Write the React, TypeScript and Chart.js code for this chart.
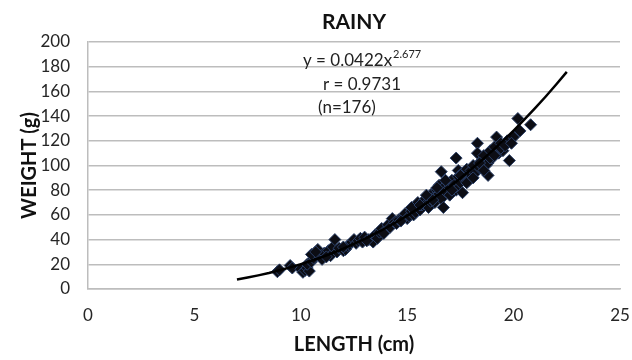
import React, { useEffect, useRef } from 'react';
import { Chart, registerables } from 'chart.js';

Chart.register(...registerables);

const lengthCm = [
  8.9, 9.0, 9.5, 9.6, 10.0, 10.1, 10.2, 10.3, 10.4, 10.3, 10.5, 10.6, 10.5, 10.8, 10.9, 11.0,
  11.1, 11.3, 11.4, 11.5, 11.6, 11.7, 11.8, 12.0, 12.1, 12.2, 12.3, 12.4, 12.5, 12.6, 12.7, 12.8,
  12.9, 13.0, 13.2, 13.4, 13.5, 13.6, 13.7, 13.8, 14.0, 14.1, 14.2, 14.3, 14.4, 14.5, 14.6, 14.8,
  14.9, 15.0, 15.1, 15.2, 15.3, 15.4, 15.5, 15.5, 15.6, 15.7, 15.8, 15.9, 16.0, 16.0, 16.1, 16.2,
  16.3, 16.3, 16.4, 16.5, 16.5, 16.6, 16.6, 16.7, 16.7, 16.8, 16.9, 17.0, 17.0, 17.1, 17.2, 17.3,
  17.3, 17.4, 17.4, 17.5, 17.6, 17.6, 17.7, 17.8, 17.9, 18.0, 18.0, 18.1, 18.2, 18.3, 18.3, 18.4,
  18.5, 18.6, 18.7, 18.8, 18.8, 18.9, 19.0, 19.1, 19.2, 19.3, 19.4, 19.5, 19.7, 19.8, 20.0, 20.2,
  20.3, 20.8,
  10.7, 11.2, 12.0, 13.1, 13.9, 14.7, 15.2, 15.6, 15.9, 16.2, 16.4, 16.8, 17.1, 17.5, 17.8, 18.1,
  18.4, 18.6, 18.9, 19.1, 19.4, 19.6, 19.9,
];
const weightG = [
  14, 15.5, 19, 17, 16, 13.5, 15, 17, 14.5, 20, 22, 25, 28, 32, 27, 24,
  29, 31, 27, 34, 40, 30, 33, 31, 32, 35, 36, 38, 40, 37, 39, 41,
  38, 42, 40, 38, 44, 41, 46, 49, 48, 52, 50, 57, 54, 53, 56, 58,
  61, 57, 59, 63, 60, 62, 66, 70, 64, 68, 72, 69, 66, 74, 71, 78,
  75, 70, 80, 77, 84, 95, 73, 66, 82, 79, 86, 82, 76, 88, 84, 106,
  80, 96, 91, 86, 78, 94, 90, 97, 88, 96, 92, 100, 94, 118, 110, 98,
  104, 108, 100, 102, 92, 112, 106, 115, 123, 110, 118, 112, 120, 104, 123, 138,
  128, 133,
  30, 26, 34, 39, 45, 55, 66, 68, 76, 72, 82, 88, 80, 92, 86, 90,
  102, 96, 106, 108, 114, 116, 118,
];

// Power trend line shown on the chart: y = 0.0422 x^2.677
const trendCoef = 0.0422;
const trendExp = 2.677;
const trendX = [7, 7.5, 8, 8.5, 9, 9.5, 10, 10.5, 11, 11.5, 12, 12.5, 13, 13.5, 14, 14.5, 15, 15.5, 16, 16.5, 17, 17.5, 18, 18.5, 19, 19.5, 20, 20.5, 21, 21.5, 22, 22.5];

const xTicks = [0, 5, 10, 15, 20, 25];
const yTicks = [0, 20, 40, 60, 80, 100, 120, 140, 160, 180, 200];

const chartTitle = 'RAINY';
const xTitle = 'LENGTH (cm)';
const yTitle = 'WEIGHT (g)';
const eqText = 'y = 0.0422x';
const eqSup = '2.677';
const rText = 'r = 0.9731';
const nText = '(n=176)';

const FONT = 'Lato, "Open Sans", "DejaVu Sans", sans-serif';

export default function App() {
  const canvasRef = useRef<HTMLCanvasElement | null>(null);

  useEffect(() => {
    document.body.style.margin = '0';
    const canvas = canvasRef.current;
    if (!canvas) return;

    const textPlugin = {
      id: 'textPlugin',
      afterDraw(chart: any) {
        const ctx = chart.ctx as CanvasRenderingContext2D;
        const ca = chart.chartArea;
        ctx.save();
        ctx.fillStyle = '#111111';
        ctx.textBaseline = 'middle';
        ctx.textAlign = 'center';
        ctx.font = `bold 21px ${FONT}`;
        ctx.fillText(chartTitle, (ca.left + ca.right) / 2, 22);

        ctx.textAlign = 'left';
        ctx.font = `17px ${FONT}`;
        ctx.fillStyle = '#222222';
        ctx.fillText(eqText, 303, 61);
        const w = ctx.measureText(eqText).width;
        ctx.font = `11px ${FONT}`;
        ctx.fillText(eqSup, 303 + w + 1, 54);
        ctx.font = `17px ${FONT}`;
        ctx.fillText(rText, 323, 85);
        ctx.fillText(nText, 318, 108);
        ctx.restore();
      },
    };

    const chart = new Chart(canvas, {
      type: 'scatter',
      data: {
        datasets: [
          {
            type: 'line',
            data: trendX.map((x) => ({ x, y: trendCoef * Math.pow(x, trendExp) })),
            borderColor: '#000000',
            borderWidth: 2.5,
            pointRadius: 0,
            fill: false,
            tension: 0,
          } as any,
          {
            type: 'scatter',
            data: lengthCm.map((x, i) => ({ x, y: weightG[i] })),
            pointStyle: 'rectRot',
            pointRadius: 6,
            backgroundColor: '#0c0d14',
            borderColor: '#2b4068',
            borderWidth: 1,
          },
        ],
      },
      plugins: [textPlugin],
      options: {
        responsive: false,
        animation: false,
        layout: { padding: { top: 42, right: 12, left: 0, bottom: 0 } },
        plugins: {
          legend: { display: false },
          tooltip: { enabled: false },
          title: { display: false },
        },
        scales: {
          x: {
            type: 'linear',
            min: xTicks[0],
            max: xTicks[xTicks.length - 1],
            afterFit: (s: any) => {
              s.height = 71;
              s.paddingRight = 0;
              s.paddingLeft = 0;
            },
            afterBuildTicks: (s: any) => {
              s.ticks = xTicks.map((v) => ({ value: v }));
            },
            grid: { display: false, drawTicks: false },
            border: { display: true, color: '#bdbdbd', width: 1.5 },
            ticks: {
              padding: 16,
              color: '#262626',
              font: { family: FONT, size: 17 },
            },
            title: {
              display: true,
              text: xTitle,
              color: '#111111',
              font: { family: FONT, size: 20, weight: 'bold' },
              padding: { top: 0, bottom: 3 },
            },
          },
          y: {
            type: 'linear',
            min: yTicks[0],
            max: yTicks[yTicks.length - 1],
            afterFit: (s: any) => {
              s.width = 88;
            },
            afterBuildTicks: (s: any) => {
              s.ticks = yTicks.map((v) => ({ value: v }));
            },
            grid: { display: true, drawTicks: false, color: '#bdbdbd', lineWidth: 1.5 },
            border: { display: true, color: '#bdbdbd', width: 1.5 },
            ticks: {
              padding: 18,
              color: '#262626',
              font: { family: FONT, size: 17 },
            },
            title: {
              display: true,
              text: yTitle,
              color: '#111111',
              font: { family: FONT, size: 20, weight: 'bold' },
              padding: { top: 18, bottom: 0 },
            },
          },
        },
      },
    });

    return () => {
      chart.destroy();
    };
  }, []);

  return (
    <div style={{ width: 632, height: 360, background: '#ffffff' }}>
      <canvas ref={canvasRef} width={632} height={360} />
    </div>
  );
}
